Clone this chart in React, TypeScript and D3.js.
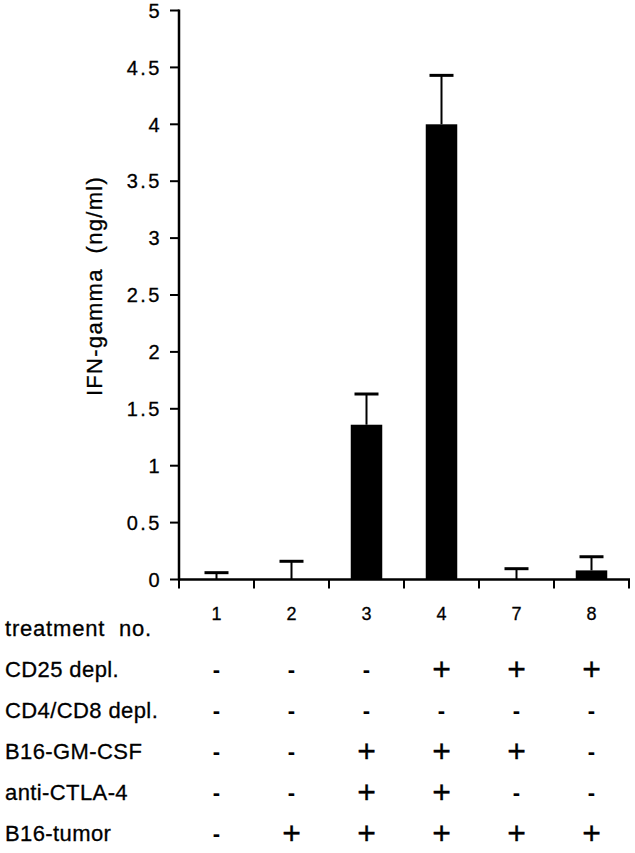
import React from "react";
import * as d3 from "d3";

const treatments = ["1", "2", "3", "4", "7", "8"];
const means = [0, 0, 1.36, 4.0, 0, 0.08];
const errs = [0.06, 0.16, 0.27, 0.43, 0.095, 0.12];
const yTicks = [0, 0.5, 1, 1.5, 2, 2.5, 3, 3.5, 4, 4.5, 5];

const rowLabels = ["CD25 depl.", "CD4/CD8 depl.", "B16-GM-CSF", "anti-CTLA-4", "B16-tumor"];
const cd25 = ["-", "-", "-", "+", "+", "+"];
const cd4cd8 = ["-", "-", "-", "-", "-", "-"];
const gmcsf = ["-", "-", "+", "+", "+", "-"];
const ctla4 = ["-", "-", "+", "+", "-", "-"];
const tumor = ["-", "+", "+", "+", "+", "+"];
const rows = [cd25, cd4cd8, gmcsf, ctla4, tumor];

const FONT = "'Liberation Sans', Arial, Helvetica, sans-serif";

export default function App() {
  const W = 635, H = 853;
  const x = d3.scaleBand<string>().domain(treatments).range([179, 629]).padding(0);
  const y = d3.scaleLinear().domain([0, 5]).range([579.5, 10.5]);
  const bw = x.bandwidth() * 0.42;
  const capW = 24;
  const rowY = d3.scaleLinear().domain([0, 5]).range([636, 841]);
  const ts = { stroke: "#000", strokeWidth: 0.3 };

  return (
    <svg width={W} height={H} style={{ position: "absolute", left: 0, top: 0, background: "#fff" }} fontFamily={FONT}>
      <rect x={0} y={0} width={W} height={H} fill="#fff" />
      {/* bars */}
      {treatments.map((t, i) => {
        const cx = (x(t) as number) + x.bandwidth() / 2;
        const top = y(means[i]);
        const etop = y(means[i] + errs[i]);
        return (
          <g key={t}>
            {means[i] > 0 && (
              <rect x={cx - bw / 2} y={top} width={bw} height={y(0) - top} fill="#000" />
            )}
            <line x1={cx} x2={cx} y1={top} y2={etop} stroke="#000" strokeWidth={2} />
            <line x1={cx - capW / 2} x2={cx + capW / 2} y1={etop} y2={etop} stroke="#000" strokeWidth={3} />
          </g>
        );
      })}
      {/* y axis */}
      <line x1={179} x2={179} y1={y(5) - 1} y2={y(0) + 1} stroke="#000" strokeWidth={2.5} />
      {yTicks.map((v) => (
        <g key={v}>
          <line x1={170} x2={179} y1={y(v)} y2={y(v)} stroke="#000" strokeWidth={2} />
          <text x={162} y={y(v)} dy="0.36em" textAnchor="end" fontSize={20} letterSpacing={2.5} {...ts}>
            {String(v)}
          </text>
        </g>
      ))}
      {/* x axis */}
      <line x1={178} x2={630} y1={y(0)} y2={y(0)} stroke="#000" strokeWidth={2.5} />
      {[...treatments.map((t) => x(t) as number), 629].map((px, i) => (
        <line key={i} x1={px} x2={px} y1={y(0)} y2={y(0) + 9} stroke="#000" strokeWidth={2} />
      ))}
      {/* y title */}
      <text
        transform={`translate(102,286) rotate(-90)`}
        textAnchor="middle"
        fontSize={22}
        letterSpacing={1.3}
        style={{ whiteSpace: "pre" }}
        {...ts}
      >
        {"IFN-gamma  (ng/ml)"}
      </text>
      {/* table */}
      <text x={5} y={636} fontSize={22} letterSpacing={0.8} style={{ whiteSpace: "pre" }} {...ts}>
        {"treatment  no."}
      </text>
      {treatments.map((t) => (
        <text key={t} x={(x(t) as number) + x.bandwidth() / 2} y={620} textAnchor="middle" fontSize={18} {...ts}>
          {t}
        </text>
      ))}
      {rowLabels.map((lab, r) => (
        <g key={lab}>
          <text x={5} y={rowY(r + 1)} fontSize={22} letterSpacing={0.4} {...ts}>
            {lab}
          </text>
          {rows[r].map((s, i) => {
            const cx = (x(treatments[i]) as number) + x.bandwidth() / 2;
            return s === "+" ? (
              <text key={i} x={cx} y={rowY(r + 1) + 3} textAnchor="middle" fontSize={32} {...ts}>
                +
              </text>
            ) : (
              <text key={i} x={cx} y={rowY(r + 1)} textAnchor="middle" fontSize={22} fontWeight="bold">
                -
              </text>
            );
          })}
        </g>
      ))}
    </svg>
  );
}
